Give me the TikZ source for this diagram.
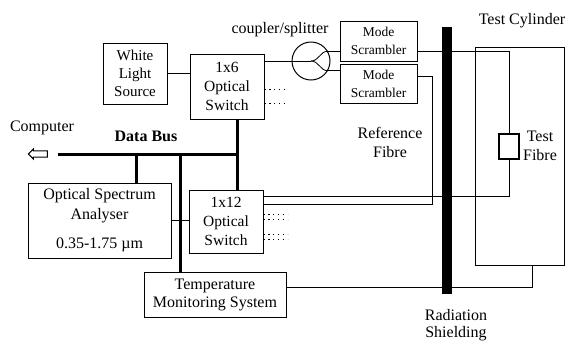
\documentclass[tikz,border=0pt]{standalone}
\usepackage{fontspec}
\setmainfont{Liberation Serif}
\usetikzlibrary{positioning,shapes.arrows}

\begin{document}
\begin{tikzpicture}[x=1pt, y=-1pt, line width=0.8pt,
    every node/.style={font=\fontsize{16}{19}\selectfont},
    box/.style={draw, rectangle, line width=1pt, align=center, inner sep=0pt},
    bus/.style={line width=3pt},
    stub/.style={line width=1pt, dash pattern=on 1.2pt off 3.6pt}]
    \useasboundingbox (0,0) rectangle (567,341);

    % Nodes
    \node (wls) [box, minimum width=64pt, minimum height=61pt, font=\fontsize{15}{18}\selectfont] at (135,73.5) {White\\Light\\Source};
    \node (sw6) [box, minimum width=74pt, minimum height=65pt, font=\fontsize{15.5}{19}\selectfont] at (227,86.5) {1x6\\Optical\\Switch};
    \node (cpl) [draw, circle, line width=1pt, minimum size=38pt, inner sep=0pt] at (311,61) {};
    \node (ms1) [box, minimum width=77pt, minimum height=40pt, font=\fontsize{13.5}{18}\selectfont] at (378.5,41) {Mode\\Scrambler};
    \node (ms2) [box, minimum width=77pt, minimum height=39pt, font=\fontsize{13.5}{18}\selectfont, below=2pt of ms1] {Mode\\Scrambler};
    \node (osa) [box, minimum width=143pt, minimum height=75pt, font=\fontsize{16}{20}\selectfont] at (99.5,220.5) {Optical Spectrum\\Analyser\\[9pt]0.35-1.75 µm};
    \node (sw12) [box, minimum width=74pt, minimum height=63pt, font=\fontsize{15.5}{19}\selectfont] at (226,221.5) {1x12\\Optical\\Switch};
    \node (tms) [box, minimum width=142pt, minimum height=45pt, font=\fontsize{16}{18}\selectfont] at (215,294.5) {Temperature\\Monitoring System};
    \node (shield) [fill=black, minimum width=10pt, minimum height=267pt, inner sep=0pt] at (447,160.5) {};
    \node (cyl) [draw, line width=0.8pt, minimum width=89pt, minimum height=218pt, inner sep=0pt] at (519.5,156) {};
    \node (tf) [draw, line width=1.4pt, minimum width=20pt, minimum height=25pt, inner sep=0pt] at (509,146.5) {};
    \node (comp) [draw, single arrow, shape border rotate=180, minimum height=19pt, inner xsep=0pt, inner ysep=2.6pt, single arrow head extend=1.8pt, single arrow head indent=0pt, line width=1.1pt] at (39.5,154) {};

    % Labels
    \node (comptxt) at (42,128) {Computer};
    \node (bustxt) at (146,136) {\bfseries Data Bus};
    \node (cpltxt) at (280,30) {coupler/splitter};
    \node (cyltxt) at (522,21) {Test Cylinder};
    \node (reftxt) [align=center] at (390,142) {Reference\\Fibre};
    \node (tftxt) [align=center] at (540,145.5) {Test\\Fibre};
    \node (shtxt) [align=center, font=\fontsize{16}{17}\selectfont] at (456,325) {Radiation\\Shielding};

    \coordinate (busL) at (58,154);
    \coordinate (busR) at (237.5,154);
    \coordinate (tapO) at (136,154);
    \coordinate (tapT) at (180,154);

    % Edges
    \draw (wls.east) -- (wls.east -| sw6.west);
    \draw (sw6.east |- cpl) -- (cpl.center);
    \draw (cpl.center) .. controls +(8,0) and +(-8,0) .. (cpl.30);
    \draw (cpl.center) .. controls +(8,0) and +(-8,0) .. (cpl.-30);
    \draw (cpl.30) -- (cpl.30 -| ms1.west);
    \draw (cpl.-30) -- (cpl.-30 -| ms2.west);
    \foreach \dy in {-2.5,-17} \draw[stub] ([yshift=\dy pt]sw6.east) -- ++(24,0);
    \foreach \dy in {7,2.5,-12.5,-17.5} \draw[stub] ([yshift=\dy pt]sw12.east) -- ++(24,0);

    \draw ([yshift=-10pt]ms1.east) -| (tf.north);
    \draw (tf.south) |- ([yshift=25pt]sw12.east);
    \draw ([yshift=7pt]ms2.east) -- ++(15,0) |- ([yshift=17pt]sw12.east);
    \draw ([yshift=7.5pt]tms.east) -| ([xshift=12.5pt]cyl.south);
    \draw (osa.east) -- (osa.east -| sw12.west);

    \draw[bus] (busL) -- (busR);
    \draw[bus] (sw6.south -| busR) -- (sw12.north -| busR);
    \draw[bus] (tapO) -- (tapO |- osa.north);
    \draw[bus] (tapT) -- (tapT |- tms.north);
\end{tikzpicture}
\end{document}
